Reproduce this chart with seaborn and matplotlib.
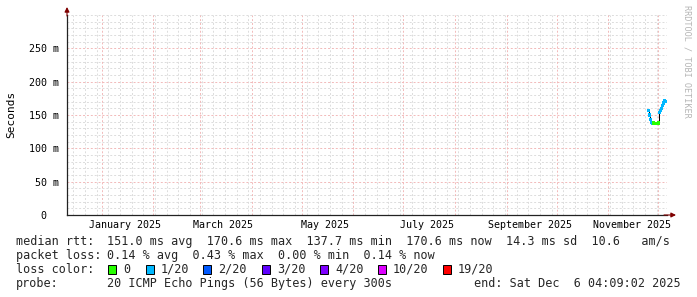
import numpy as np
import pandas as pd
import matplotlib
matplotlib.use("Agg")
import matplotlib.pyplot as plt
import matplotlib.dates as mdates
from matplotlib.patches import Rectangle
from matplotlib.ticker import MultipleLocator, FixedLocator, FixedFormatter
import seaborn as sns

# ---------------- data ----------------
sample_time = [
    "2025-11-25 06:00", "2025-11-25 20:00", "2025-11-26 10:00", "2025-11-27 00:00",
    "2025-11-27 14:00", "2025-11-28 04:00", "2025-11-29 00:00", "2025-11-30 00:00",
    "2025-12-01 00:00", "2025-12-01 14:00", "2025-12-02 04:00", "2025-12-02 18:00",
    "2025-12-03 08:00", "2025-12-03 22:00", "2025-12-04 12:00", "2025-12-05 02:00",
    "2025-12-05 16:00",
]
median_rtt_s = [
    0.157, 0.150, 0.143, 0.139,
    0.138, 0.138, 0.1377, 0.1378,
    0.138, 0.154, 0.157, 0.160,
    0.164, 0.168, 0.171, 0.1706,
    0.1706,
]
loss_class = [
    "1/20", "1/20", "1/20", "1/20",
    "1/20", "0", "0", "0",
    "0", "1/20", "1/20", "1/20",
    "1/20", "1/20", "1/20", "1/20",
    "1/20",
]

loss_labels = ["0", "1/20", "2/20", "3/20", "4/20", "10/20", "19/20"]
loss_colors = ["#26ff00", "#00b8ff", "#0059ff", "#5e00ff", "#7e00ff", "#dd00ff", "#ff0000"]

y_tick_values = [0.0, 0.05, 0.10, 0.15, 0.20, 0.25]
y_tick_labels = ["0  ", "50 m", "100 m", "150 m", "200 m", "250 m"]
label_months = [1, 3, 5, 7, 9, 11]

end_time = pd.Timestamp("2025-12-06 04:09:02")
span_days = 360
y_max = 0.30

median_label = "median rtt:"
median_stats = "151.0 ms avg  170.6 ms max  137.7 ms min  170.6 ms now  14.3 ms sd  10.6   am/s"
loss_label = "packet loss:"
loss_stats = "0.14 % avg  0.43 % max  0.00 % min  0.14 % now"
color_label = "loss color:"
probe_label = "probe:"
probe_text = "20 ICMP Echo Pings (56 Bytes) every 300s"
end_text = "end: Sat Dec  6 04:09:02 2025"
watermark = "RRDTOOL / TOBI OETIKER"

# ---------------- figure ----------------
sns.set_theme(style="white")
plt.rcParams["font.family"] = ["DejaVu Sans Mono"]

W, H = 697, 297
fig = plt.figure(figsize=(W / 100, H / 100), dpi=100)
fig.patch.set_facecolor("white")

def px(x, y):
    return x / W, 1 - y / H

ax = fig.add_axes([67 / W, 1 - 215 / H, 600 / W, 200 / H])
ax.set_facecolor("white")

df = pd.DataFrame({
    "time": pd.to_datetime(sample_time),
    "median": median_rtt_s,
    "loss": loss_class,
})

start_time = end_time - pd.Timedelta(days=span_days)

# grid lines
minor_col = "#dcdcdc"
major_col = "#f2b9b9"
dash = (0, (2, 2))

month_starts = mdates.MonthLocator(bymonthday=1).tick_values(
    start_time.to_pydatetime(), end_time.to_pydatetime())

sns.lineplot(data=df, x="time", y="median", color="black", lw=0.7,
             drawstyle="steps-mid", estimator=None, ax=ax, zorder=4)
sns.scatterplot(data=df, x="time", y="median", hue="loss",
                palette=dict(zip(loss_labels, loss_colors)), marker="s",
                s=5, linewidth=0, legend=False, ax=ax, zorder=5)

ax.set_xlim(start_time, end_time)
ax.set_ylim(0, y_max)

ax.vlines(month_starts, 0, y_max, colors=major_col, linestyles=dash, lw=0.7, zorder=1)

ax.xaxis.set_major_locator(mdates.MonthLocator(bymonth=label_months, bymonthday=15))
ax.xaxis.set_major_formatter(mdates.DateFormatter("%B %Y"))
ax.xaxis.set_minor_locator(mdates.WeekdayLocator(byweekday=mdates.SU))

ax.yaxis.set_major_locator(FixedLocator(y_tick_values))
ax.yaxis.set_major_formatter(FixedFormatter(y_tick_labels))
ax.yaxis.set_minor_locator(MultipleLocator(0.01))

ax.grid(False)
ax.xaxis.grid(True, which="minor", color=minor_col, linestyle=dash, lw=0.7)
ax.yaxis.grid(True, which="minor", color=minor_col, linestyle=dash, lw=0.7)
ax.yaxis.grid(True, which="major", color=major_col, linestyle=dash, lw=0.7)
ax.set_axisbelow(True)

ax.tick_params(axis="x", which="major", length=0, pad=3.5, labelsize=7.2, colors="black")
ax.tick_params(axis="x", which="minor", length=2, width=0.6, color="#333333", direction="out")
ax.tick_params(axis="y", which="major", length=3, width=0.7, pad=2.6, labelsize=7.2,
               color="#333333", direction="out", labelcolor="black")
ax.tick_params(axis="y", which="minor", length=0)
ax.set_xlabel("")
ax.set_ylabel("")

for s in ["top", "right"]:
    ax.spines[s].set_visible(False)
for s in ["left", "bottom"]:
    ax.spines[s].set_color("#222222")
    ax.spines[s].set_linewidth(0.9)

# arrows
ax.annotate("", xy=(0, 1 + 8 / 200), xytext=(0, 0.995), xycoords="axes fraction",
            arrowprops=dict(arrowstyle="-|>", color="#7f0000", lw=0.8,
                            mutation_scale=7, shrinkA=0, shrinkB=0))
ax.annotate("", xy=(1 + 9 / 600, 0), xytext=(0.995, 0), xycoords="axes fraction",
            arrowprops=dict(arrowstyle="-|>", color="#7f0000", lw=0.8,
                            mutation_scale=7, shrinkA=0, shrinkB=0))

# y label
fig.text(*px(11, 114), "Seconds", rotation=90, ha="center", va="center",
         fontsize=8, color="black")

# watermark
fig.text(*px(687, 5), watermark, rotation=270, ha="center", va="top",
         fontsize=6.1, color="#b5b5b5")

# legend/stat lines
fs = 8.5
fig.text(*px(16, 245), median_label, fontsize=fs, va="baseline")
fig.text(*px(107, 245), median_stats, fontsize=fs, va="baseline")
fig.text(*px(16, 259), loss_label, fontsize=fs, va="baseline")
fig.text(*px(107, 259), loss_stats, fontsize=fs, va="baseline")
fig.text(*px(16, 273), color_label, fontsize=fs, va="baseline")
square_x = [108, 146, 203, 262, 320, 378, 443]
for sx, lab, col in zip(square_x, loss_labels, loss_colors):
    x0, y0 = px(sx, 273.5)
    fig.add_artist(Rectangle((x0, y0), 8 / W, 8.5 / H, transform=fig.transFigure,
                             facecolor=col, edgecolor="black", lw=0.7))
    fig.text(*px(sx + 15, 273), lab, fontsize=fs, va="baseline")
fig.text(*px(16, 287), probe_label, fontsize=fs, va="baseline")
fig.text(*px(107, 287), probe_text, fontsize=fs, va="baseline")
fig.text(*px(681, 287), end_text, fontsize=fs, va="baseline", ha="right")

fig.savefig("out.png", dpi=100, facecolor="white")
